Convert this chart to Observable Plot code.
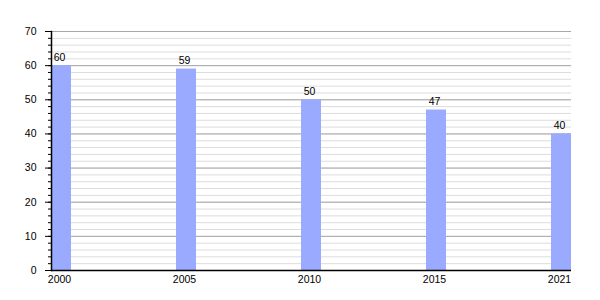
<!DOCTYPE html>
<html>
<head>
<meta charset="utf-8">
<script src="https://cdn.jsdelivr.net/npm/d3@7"></script>
<script src="https://cdn.jsdelivr.net/npm/@observablehq/plot@0.6"></script>
<style>
  html, body { margin: 0; padding: 0; background: #fff; }
  #chart svg { display: block; }
</style>
</head>
<body>
<div id="chart"></div>
<script>
const years = ["2000", "2005", "2010", "2015", "2021"];
const values = [60, 59, 50, 47, 40];
const yMajorTicks = [0, 10, 20, 30, 40, 50, 60, 70];
const yMinorTicks = [0, 2, 4, 6, 8, 10, 12, 14, 16, 18, 20, 22, 24, 26, 28, 30, 32, 34, 36, 38, 40, 42, 44, 46, 48, 50, 52, 54, 56, 58, 60, 62, 64, 66, 68, 70];

const data = years.map((y, i) => ({year: y, value: values[i]}));

const chart = Plot.plot({
  width: 600,
  height: 300,
  marginLeft: 51,
  marginRight: 29,
  marginTop: 31,
  marginBottom: 30,
  style: {fontFamily: "'Liberation Sans', Arial, sans-serif", fontSize: "10.5px", color: "#000", background: "#fff"},
  x: {type: "band", domain: years, paddingInner: 0.84, paddingOuter: 0, align: 0},
  y: {domain: [0, 70]},
  marks: [
    Plot.ruleY(yMinorTicks, {stroke: "#dcdcdc", strokeWidth: 1}),
    Plot.ruleY(yMajorTicks, {stroke: "#a8a8a8", strokeWidth: 1}),
    Plot.barY(data, {x: "year", y: "value", fill: "#99aaff"}),
    Plot.text(data, {x: "year", y: "value", text: d => String(d.value), dy: -5, dx: -2, lineAnchor: "bottom", fill: "#000"}),
    Plot.axisY({ticks: yMinorTicks, tickSize: 3, text: null, label: null, stroke: "#000"}),
    Plot.axisY({ticks: yMajorTicks, tickSize: 6, tickPadding: 9, label: null, stroke: "#000", fill: "#000"}),
    Plot.axisX({tickSize: 0, tickPadding: 5, dx: -2, label: null, fill: "#000"}),
    Plot.ruleY([0], {stroke: "#000", strokeWidth: 1.5}),
    Plot.frame({anchor: "left", stroke: "#000", strokeWidth: 1.5})
  ]
});
document.getElementById("chart").appendChild(chart);
</script>
</body>
</html>
